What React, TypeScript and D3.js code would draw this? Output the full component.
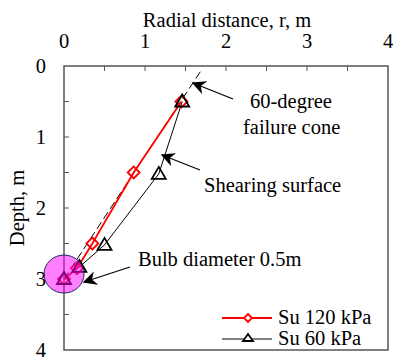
import React, { useEffect, useRef } from "react";
import * as d3 from "d3";

const xTicks = [0, 1, 2, 3, 4];
const yTicks = [0, 1, 2, 3, 4];
const minorTicks = [0.5, 1, 1.5, 2, 2.5, 3, 3.5];

const su120R = [1.45, 0.86, 0.35, 0.16, 0];
const su120D = [0.5, 1.5, 2.5, 2.85, 3.0];
const su60R = [1.46, 1.17, 0.5, 0.19, 0];
const su60D = [0.5, 1.52, 2.52, 2.83, 3.0];

const coneR = [0, 1.7];
const coneD = [3.0, 0.05];

const bulbCenter = [0, 2.93];

const font = "'Liberation Serif', 'Times New Roman', serif";
const fs = "20.5px";

export default function App() {
  const ref = useRef<SVGSVGElement>(null);

  useEffect(() => {
    const svg = d3.select(ref.current);
    svg.selectAll("*").remove();

    const x = d3.scaleLinear().domain([0, 4]).range([64, 388]);
    const y = d3.scaleLinear().domain([0, 4]).range([66, 350]);

    // frame
    svg
      .append("rect")
      .attr("x", x(0))
      .attr("y", y(0))
      .attr("width", x(4) - x(0))
      .attr("height", y(4) - y(0))
      .attr("fill", "white")
      .attr("stroke", "#555")
      .attr("stroke-width", 1.5);

    // ticks
    svg
      .selectAll(".xt")
      .data(minorTicks)
      .join("line")
      .attr("x1", (d) => x(d))
      .attr("x2", (d) => x(d))
      .attr("y1", y(0))
      .attr("y2", y(0) + 5)
      .attr("stroke", "#555");

    svg
      .selectAll(".yt")
      .data(minorTicks)
      .join("line")
      .attr("x1", x(0))
      .attr("x2", x(0) + 5)
      .attr("y1", (d) => y(d))
      .attr("y2", (d) => y(d))
      .attr("stroke", "#555");

    svg
      .selectAll(".xl")
      .data(xTicks)
      .join("text")
      .attr("x", (d) => x(d))
      .attr("y", 48)
      .attr("text-anchor", "middle")
      .style("font-family", font)
      .style("font-size", fs)
      .text((d) => d);

    svg
      .selectAll(".yl")
      .data(yTicks)
      .join("text")
      .attr("x", 46)
      .attr("y", (d) => y(d) + 7)
      .attr("text-anchor", "end")
      .style("font-family", font)
      .style("font-size", fs)
      .text((d) => d);

    svg
      .append("text")
      .attr("x", 227)
      .attr("y", 27)
      .attr("text-anchor", "middle")
      .style("font-family", font)
      .style("font-size", fs)
      .text("Radial distance, r, m");

    svg
      .append("text")
      .attr("transform", `translate(24, ${y(2)}) rotate(-90)`)
      .attr("text-anchor", "middle")
      .style("font-family", font)
      .style("font-size", fs)
      .text("Depth, m");

    const line = d3
      .line<[number, number]>()
      .x((d) => x(d[0]))
      .y((d) => y(d[1]));

    // cone
    svg
      .append("path")
      .attr("d", line(coneR.map((r, i) => [r, coneD[i]])))
      .attr("fill", "none")
      .attr("stroke", "black")
      .attr("stroke-width", 1)
      .attr("stroke-dasharray", "8,4");

    const s60 = su60R.map((r, i) => [r, su60D[i]] as [number, number]);
    const s120 = su120R.map((r, i) => [r, su120D[i]] as [number, number]);

    svg
      .append("path")
      .attr("d", line(s60))
      .attr("fill", "none")
      .attr("stroke", "black")
      .attr("stroke-width", 1);

    svg
      .append("path")
      .attr("d", line(s120))
      .attr("fill", "none")
      .attr("stroke", "red")
      .attr("stroke-width", 1.8);

    const diamond = (cx: number, cy: number, s = 6) =>
      `M${cx},${cy - s}L${cx + s},${cy}L${cx},${cy + s}L${cx - s},${cy}Z`;
    const tri = (cx: number, cy: number) =>
      `M${cx},${cy - 7}L${cx + 7},${cy + 5}L${cx - 7},${cy + 5}Z`;

    svg
      .selectAll(".dm")
      .data(s120)
      .join("path")
      .attr("d", (d) => diamond(x(d[0]), y(d[1])))
      .attr("fill", "none")
      .attr("stroke", "red")
      .attr("stroke-width", 1.8);

    svg
      .selectAll(".tr")
      .data(s60)
      .join("path")
      .attr("d", (d) => tri(x(d[0]), y(d[1])))
      .attr("fill", "none")
      .attr("stroke", "black")
      .attr("stroke-width", 1.8);

    // bulb
    svg
      .append("ellipse")
      .attr("cx", x(bulbCenter[0]))
      .attr("cy", y(bulbCenter[1]))
      .attr("rx", 20)
      .attr("ry", 19)
      .attr("fill", "#ff00ff")
      .attr("fill-opacity", 0.5)
      .attr("stroke", "#1f2a5a")
      .attr("stroke-width", 1);

    // annotations
    const defs = svg.append("defs");
    defs
      .append("marker")
      .attr("id", "ah")
      .attr("viewBox", "0 0 10 10")
      .attr("refX", 9)
      .attr("refY", 5)
      .attr("markerWidth", 14)
      .attr("markerHeight", 14)
      .attr("markerUnits", "userSpaceOnUse")
      .attr("orient", "auto")
      .append("path")
      .attr("d", "M0,0L10,5L0,10L3,5Z")
      .attr("fill", "black");

    const arrows = [
      [233, 99, 193, 83],
      [200, 170, 162, 155],
      [130, 267, 84, 282],
    ];
    svg
      .selectAll(".ar")
      .data(arrows)
      .join("line")
      .attr("x1", (d) => d[0])
      .attr("y1", (d) => d[1])
      .attr("x2", (d) => d[2])
      .attr("y2", (d) => d[3])
      .attr("stroke", "black")
      .attr("stroke-width", 1.2)
      .attr("marker-end", "url(#ah)");

    const notes: [number, number, string][] = [
      [250, 108, "60-degree"],
      [243, 134, "failure cone"],
      [204, 192, "Shearing surface"],
      [138, 266, "Bulb diameter 0.5m"],
    ];
    svg
      .selectAll(".nt")
      .data(notes)
      .join("text")
      .attr("x", (d) => d[0])
      .attr("y", (d) => d[1])
      .style("font-family", font)
      .style("font-size", fs)
      .text((d) => d[2]);

    // legend
    const lg = svg.append("g");
    lg.append("line")
      .attr("x1", 222)
      .attr("x2", 272)
      .attr("y1", 318)
      .attr("y2", 318)
      .attr("stroke", "red")
      .attr("stroke-width", 1.8);
    lg.append("path")
      .attr("d", diamond(248, 318, 4))
      .attr("fill", "white")
      .attr("stroke", "red")
      .attr("stroke-width", 1.8);
    lg.append("text")
      .attr("x", 278)
      .attr("y", 324)
      .style("font-family", font)
      .style("font-size", fs)
      .text("Su 120 kPa");

    lg.append("line")
      .attr("x1", 222)
      .attr("x2", 272)
      .attr("y1", 339)
      .attr("y2", 339)
      .attr("stroke", "black")
      .attr("stroke-width", 1);
    lg.append("path")
      .attr("d", `M248,334L253,341L243,341Z`)
      .attr("fill", "white")
      .attr("stroke", "black")
      .attr("stroke-width", 1.8);
    lg.append("text")
      .attr("x", 278)
      .attr("y", 345)
      .style("font-family", font)
      .style("font-size", fs)
      .text("Su 60 kPa");
  }, []);

  return (
    <svg
      ref={ref}
      width={393}
      height={358}
      style={{ position: "absolute", left: 0, top: 0, background: "white" }}
    />
  );
}
